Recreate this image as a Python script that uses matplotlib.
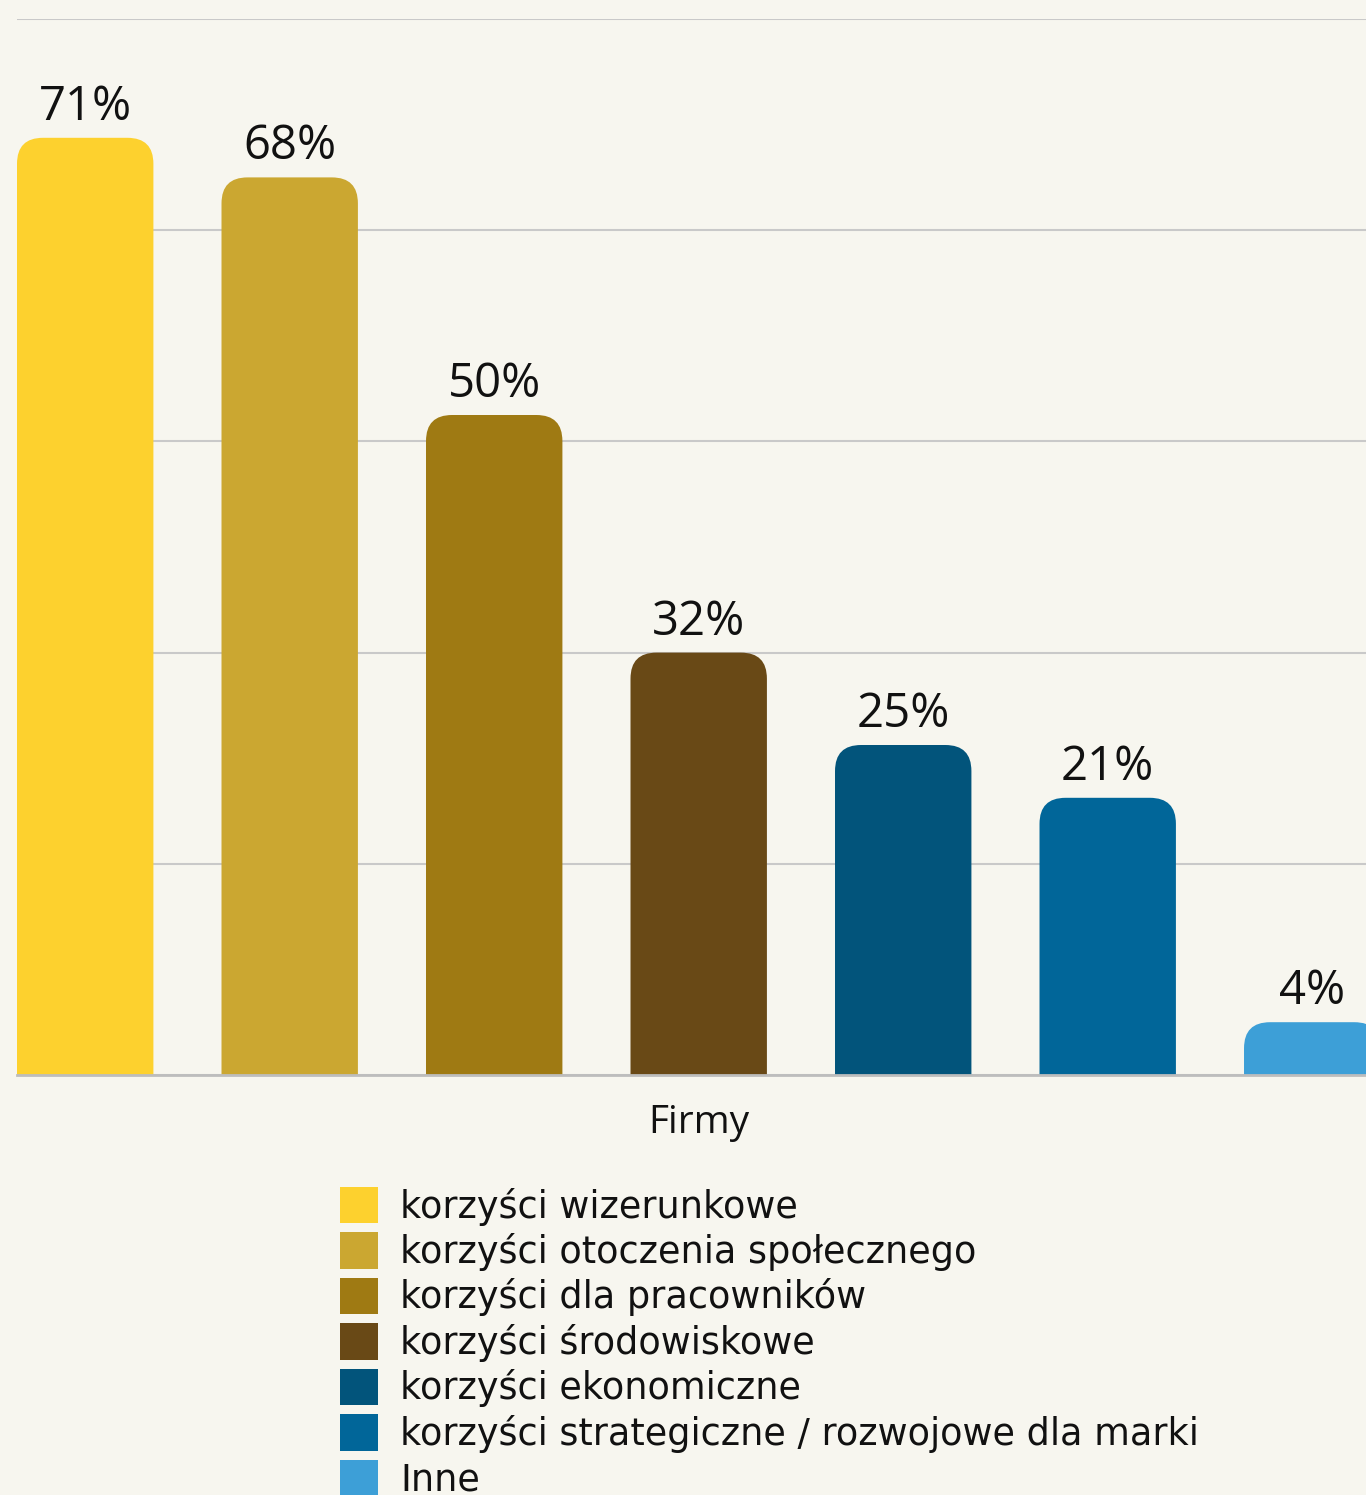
import matplotlib
matplotlib.use("Agg")
import matplotlib.pyplot as plt
from matplotlib.patches import FancyBboxPatch

plt.rcParams["font.family"] = ["Open Sans", "DejaVu Sans"]

BG = "#F7F6EF"
GRID = "#C9C9C9"

categories = ["korzyści wizerunkowe", "korzyści otoczenia społecznego", "korzyści dla pracowników",
              "korzyści środowiskowe", "korzyści ekonomiczne",
              "korzyści strategiczne / rozwojowe dla marki", "Inne"]
values = [71, 68, 50, 32, 25, 21, 4]
colors = ["#FDD12E", "#CBA731", "#9F7A13", "#694916", "#02547B", "#016699", "#3D9FD7"]
group_label = "Firmy"
yticks = [0, 16, 32, 48, 64, 80]

W, H = 1366, 1495
fig = plt.figure(figsize=(W / 100, H / 100), dpi=100, facecolor=BG)
ax = fig.add_axes([17 / W, 1 - 1075 / H, 1 - 17 / W, (1075 - 19) / H])
ax.set_facecolor(BG)

xs = list(range(len(values)))
bars = ax.bar(xs, values, width=0.667, color=colors, label=categories, zorder=2)
ax.set_xlim(-0.3335, 6.263)
ax.set_ylim(0, 80)
ax.set_yticks(yticks)
ax.yaxis.grid(True, color=GRID, lw=1.5, zorder=0)
ax.set_axisbelow(True)
ax.tick_params(left=False, bottom=False, labelleft=False, labelbottom=False)
for s in ["top", "right", "left"]:
    ax.spines[s].set_visible(False)
ax.spines["bottom"].set_color("#BDBDBD")
ax.spines["bottom"].set_linewidth(2)
ax.spines["bottom"].set_zorder(3)

# rounded top corners (~26 px radius); the box starts below 0 so the axes clip squares the bottom
fig.canvas.draw()
px_x = ax.transData.transform((1, 0))[0] - ax.transData.transform((0, 0))[0]
px_y = ax.transData.transform((0, 1))[1] - ax.transData.transform((0, 0))[1]
rx = 26 / px_x
ry = 26 / px_y
for b, v, c in zip(bars, values, colors):
    x0, w = b.get_x(), b.get_width()
    ax.add_patch(FancyBboxPatch((x0, -ry * 1.5), w, v + ry * 1.5,
                                boxstyle=f"round,pad=0,rounding_size={rx}",
                                mutation_aspect=ry / rx, fc=c, ec="none", zorder=2))
    b.set_height(0)
    ax.annotate(f"{v}%", (x0 + w / 2, v), xytext=(0, 13), textcoords="offset points",
                ha="center", va="baseline", fontsize=34, color="#111111", annotation_clip=False)

ax.text(3, -0.0549, group_label, transform=ax.get_xaxis_transform(), ha="center", va="baseline",
        fontsize=28, color="#111111")

fs = 26.4
fig.legend(handles=list(bars), labels=categories, loc="upper left",
           bbox_to_anchor=(340 / W, 1 - 1187 / H), frameon=False,
           prop={"family": "DejaVu Sans", "size": fs},
           handlelength=1.04, handleheight=1.14, handletextpad=0.6, labelspacing=0.19,
           borderpad=0, borderaxespad=0, labelcolor="#111111")

fig.savefig("out.png", dpi=100, facecolor=BG)
